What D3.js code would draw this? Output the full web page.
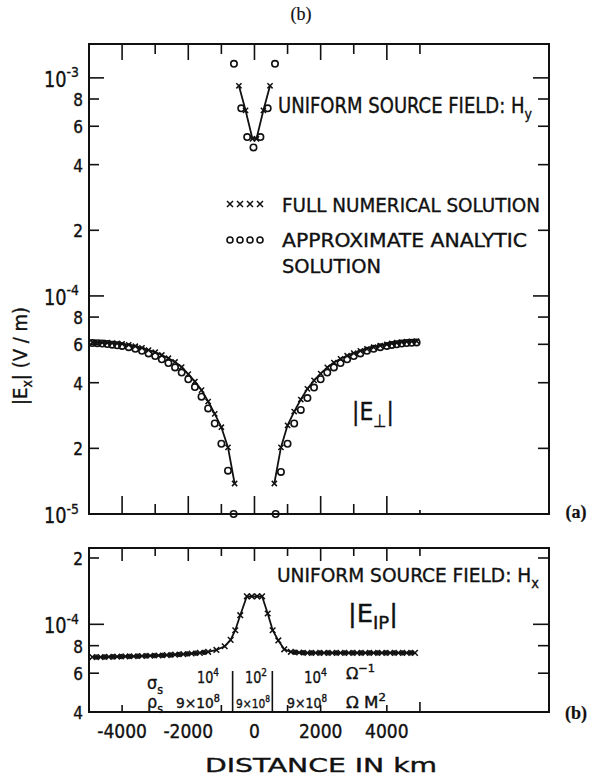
<!DOCTYPE html>
<html>
<head>
<meta charset="utf-8">
<style>
    body { margin: 0; background: #fff; }
    svg { font-family: "DejaVu Sans Condensed", "Liberation Sans Narrow", "DejaVu Sans", sans-serif; }
    svg text { fill: #111; stroke: #111; stroke-width: 0.35; }
    .frame { fill: none; stroke: #111; stroke-width: 2; }
    .tick { stroke: #111; stroke-width: 1.6; }
    .curve { fill: none; stroke: #111; stroke-width: 1.8; }
    .xmark { fill: none; stroke: #111; stroke-width: 1.5; }
    .omark { fill: none; stroke: #111; stroke-width: 1.6; }
    .dot { fill: #111; stroke: #111; stroke-width: 1; }
    svg text.serif { font-family: "Liberation Serif", "DejaVu Serif", serif; stroke-width: 0.2; }
</style>
<script src="https://d3js.org/d3.v7.min.js"></script>
</head>
<body>
<script>
// ---- panel (a), |E_perp|, H_y source ----
// V shape near the origin (top of panel)
const hyNumKm  = [-470, -270, -60, 60, 270, 470];
const hyNumVal = [9.2e-4, 7.1e-4, 5.25e-4, 5.25e-4, 7.1e-4, 9.2e-4];
const hyAppKm  = [-620, -400, -220, -30, 180, 400, 620];
const hyAppVal = [1.16e-3, 7.25e-4, 5.35e-4, 4.8e-4, 5.35e-4, 7.25e-4, 1.16e-3];

// full numerical solution, left and right branches
const numLeftKm  = [-4900, -4750, -4600, -4450, -4300, -4150, -4000, -3800, -3600, -3400, -3200, -3000,
                    -2800, -2600, -2400, -2200, -2000, -1800, -1600, -1400, -1200, -1000, -800, -600];
const numLeftVal = [6.12e-5, 6.12e-5, 6.11e-5, 6.10e-5, 6.08e-5, 6.06e-5, 6.03e-5, 5.97e-5, 5.88e-5, 5.78e-5, 5.65e-5, 5.52e-5,
                    5.36e-5, 5.18e-5, 4.98e-5, 4.72e-5, 4.38e-5, 4.05e-5, 3.70e-5, 3.28e-5, 2.88e-5, 2.50e-5, 2.02e-5, 1.38e-5];
const numRightKm  = [600, 800, 1000, 1200, 1400, 1600, 1800, 2000, 2200, 2400, 2600, 2800,
                     3000, 3200, 3400, 3600, 3800, 4000, 4150, 4300, 4450, 4600, 4750, 4900];
const numRightVal = [1.38e-5, 2.02e-5, 2.55e-5, 2.95e-5, 3.35e-5, 3.75e-5, 4.10e-5, 4.40e-5, 4.70e-5, 4.95e-5, 5.15e-5, 5.32e-5,
                     5.47e-5, 5.60e-5, 5.72e-5, 5.82e-5, 5.92e-5, 6.00e-5, 6.06e-5, 6.10e-5, 6.14e-5, 6.17e-5, 6.19e-5, 6.20e-5];

// approximate analytic solution
const appLeftKm  = [-4900, -4750, -4600, -4450, -4300, -4150, -4000, -3800, -3600, -3400, -3200, -3000,
                    -2800, -2600, -2400, -2200, -2000, -1800, -1600, -1400, -1200, -1000, -800, -630];
const appLeftVal = [6.08e-5, 6.07e-5, 6.05e-5, 6.02e-5, 5.98e-5, 5.94e-5, 5.90e-5, 5.82e-5, 5.72e-5, 5.60e-5, 5.45e-5, 5.30e-5,
                    5.12e-5, 4.92e-5, 4.70e-5, 4.45e-5, 4.15e-5, 3.82e-5, 3.45e-5, 3.05e-5, 2.60e-5, 2.10e-5, 1.58e-5, 1.0e-5];
const appRightKm  = [640, 800, 1000, 1200, 1400, 1600, 1800, 2000, 2200, 2400, 2600, 2800,
                     3000, 3200, 3400, 3600, 3800, 4000, 4150, 4300, 4450, 4600, 4750, 4900];
const appRightVal = [1.0e-5, 1.56e-5, 2.10e-5, 2.60e-5, 3.00e-5, 3.40e-5, 3.80e-5, 4.15e-5, 4.45e-5, 4.70e-5, 4.92e-5, 5.12e-5,
                     5.30e-5, 5.45e-5, 5.60e-5, 5.72e-5, 5.82e-5, 5.90e-5, 5.96e-5, 6.00e-5, 6.05e-5, 6.08e-5, 6.10e-5, 6.12e-5];

// ---- panel (b), |E_P|, H_x source ----
const tpNumKm  = [-4900, -4650, -4400, -4150, -3900, -3650, -3400, -3150, -2900, -2650, -2400, -2150, -1900, -1650,
                  -1400, -1150, -900, -720, -580, -430, -230, -80, 80, 230, 400, 550, 720, 900, 1100,
                  1350, 1600, 1850, 2100, 2350, 2600, 2850, 3100, 3350, 3600, 3850, 4100, 4350, 4600, 4850];
const tpNumVal = [7.10e-5, 7.10e-5, 7.12e-5, 7.13e-5, 7.15e-5, 7.16e-5, 7.18e-5, 7.20e-5, 7.22e-5, 7.25e-5, 7.28e-5, 7.32e-5, 7.37e-5, 7.42e-5,
                  7.50e-5, 7.65e-5, 7.95e-5, 8.50e-5, 9.40e-5, 1.10e-4, 1.34e-4, 1.34e-4, 1.34e-4, 1.34e-4, 1.12e-4, 9.40e-5, 8.45e-5, 7.70e-5, 7.50e-5,
                  7.45e-5, 7.42e-5, 7.42e-5, 7.42e-5, 7.42e-5, 7.42e-5, 7.42e-5, 7.42e-5, 7.42e-5, 7.42e-5, 7.42e-5, 7.42e-5, 7.42e-5, 7.42e-5, 7.42e-5];
const tpAppKm  = [-4775, -4525, -4275, -4025, -3775, -3525, -3275, -3025, -2775, -2525, -2275, -2025, -1775, -1525,
                  1225, 1475, 1725, 1975, 2225, 2475, 2725, 2975, 3225, 3475, 3725, 3975, 4225, 4475, 4725];
const tpAppVal = [7.10e-5, 7.11e-5, 7.12e-5, 7.14e-5, 7.15e-5, 7.17e-5, 7.19e-5, 7.21e-5, 7.23e-5, 7.26e-5, 7.30e-5, 7.34e-5, 7.40e-5, 7.46e-5,
                  7.47e-5, 7.43e-5, 7.42e-5, 7.42e-5, 7.42e-5, 7.42e-5, 7.42e-5, 7.42e-5, 7.42e-5, 7.42e-5, 7.42e-5, 7.42e-5, 7.42e-5, 7.42e-5, 7.42e-5];

// axes
const xTickVals  = [-4000, -3000, -2000, -1000, 0, 1000, 2000, 3000, 4000, 5000];
const xLabelVals = [-4000, -2000, 0, 2000, 4000];
const yTicksA = [1e-3, 8e-4, 6e-4, 4e-4, 2e-4, 1e-4, 8e-5, 6e-5, 4e-5, 2e-5, 1e-5];
const yTicksB = [2e-4, 1e-4, 8e-5, 6e-5, 4e-5];
// conductivity blocks (boundaries in km)
const blockEdges = [-660, 540];

const W = 601, H = 778;
const svg = d3.select('body').append('svg').attr('width', W).attr('height', H);

const x  = d3.scaleLinear().domain([-5000, 8900]).range([89, 549]);
const yA = d3.scaleLog().domain([1e-5, 1.43e-3]).range([514, 44]);
const yB = d3.scaleLog().domain([4e-5, 2.22e-4]).range([712, 548]);

const isDecade = v => Math.abs(Math.log10(v) - Math.round(Math.log10(v))) < 1e-9;
const lead = v => Math.round(v / Math.pow(10, Math.floor(Math.log10(v) + 1e-9)));

function txt(px, py, s, size, len, anchor) {
    const t = svg.append('text').attr('x', px).attr('y', py).attr('font-size', size).text(s);
    if (len) t.attr('textLength', len).attr('lengthAdjust', 'spacingAndGlyphs');
    if (anchor) t.attr('text-anchor', anchor);
    return t;
}

// one text element with sub/superscripts: parts = [[string, 'n'|'sub'|'sup'], ...]
function rich(px, py, parts, size, len, anchor) {
    const t = svg.append('text').attr('x', px).attr('y', py).attr('font-size', size);
    if (len) t.attr('textLength', len).attr('lengthAdjust', 'spacingAndGlyphs');
    if (anchor) t.attr('text-anchor', anchor);
    let shift = 0;
    parts.forEach(([s, k]) => {
        const want = k === 'sup' ? -0.45 * size : k === 'sub' ? 0.28 * size : 0;
        t.append('tspan')
            .attr('dy', want - shift)
            .attr('font-size', k === 'n' ? size : 0.7 * size)
            .text(s);
        shift = want;
    });
    return t;
}

function crosses(g, xs, ys, yS, s) {
    g.selectAll(null).data(d3.zip(xs, ys)).enter().append('path')
        .attr('class', 'xmark')
        .attr('d', d => {
            const cx = x(d[0]), cy = yS(d[1]);
            return `M${cx - s},${cy - s}L${cx + s},${cy + s}M${cx - s},${cy + s}L${cx + s},${cy - s}`;
        });
}
function circles(g, xs, ys, yS, r, cls) {
    g.selectAll(null).data(d3.zip(xs, ys)).enter().append('circle')
        .attr('class', cls || 'omark')
        .attr('cx', d => x(d[0])).attr('cy', d => yS(d[1])).attr('r', r);
}
function curve(g, xs, ys, yS) {
    g.append('path').datum(d3.zip(xs, ys)).attr('class', 'curve')
        .attr('d', d3.line().x(d => x(d[0])).y(d => yS(d[1])));
}

// frame + ticks + y labels for one panel
function panel(yS, yTicks, topLen, botLen, bigLen, smallLen) {
    const [y0, y1] = yS.range();   // bottom, top
    const L = x.range()[0], R = x.range()[1];
    const g = svg.append('g');
    g.append('rect').attr('class', 'frame')
        .attr('x', L).attr('y', y1).attr('width', R - L).attr('height', y0 - y1);
    g.selectAll(null).data(xTickVals).enter().append('line').attr('class', 'tick')
        .attr('x1', d => x(d)).attr('x2', d => x(d))
        .attr('y1', y1).attr('y2', d => y1 + topLen(d));
    g.selectAll(null).data(xTickVals.filter(d => botLen(d) > 0)).enter().append('line').attr('class', 'tick')
        .attr('x1', d => x(d)).attr('x2', d => x(d))
        .attr('y1', y0).attr('y2', d => y0 - botLen(d));
    g.selectAll(null).data(yTicks).enter().append('line').attr('class', 'tick')
        .attr('x1', L).attr('x2', d => L + (isDecade(d) ? bigLen : smallLen))
        .attr('y1', d => yS(d)).attr('y2', d => yS(d));
    g.selectAll(null).data(yTicks).enter().append('line').attr('class', 'tick')
        .attr('x1', R).attr('x2', d => R - (isDecade(d) ? bigLen + 1 : smallLen + 1))
        .attr('y1', d => yS(d)).attr('y2', d => yS(d));
    yTicks.forEach(v => {
        const py = yS(v);
        if (isDecade(v)) {
            rich(44, py + 9, [['10', 'n'], [String(Math.round(Math.log10(v))), 'sup']], 21, 35);
        } else {
            txt(83, py + 7, String(lead(v)), 17, null, 'end');
        }
    });
    return g;
}

// ---------- panel (a)
const gA = panel(yA, yTicksA,
    d => (d % 2000 === 0 ? 16 : 10),
    d => (d === 5000 ? 4 : d % 2000 === 0 ? 18 : 10),
    15, 10);

curve(gA, hyNumKm, hyNumVal, yA);
crosses(gA, hyNumKm, hyNumVal, yA, 2.6);
circles(gA, hyAppKm, hyAppVal, yA, 3.2);

curve(gA, numLeftKm, numLeftVal, yA);
curve(gA, numRightKm, numRightVal, yA);
crosses(gA, numLeftKm, numLeftVal, yA, 2.6);
crosses(gA, numRightKm, numRightVal, yA, 2.6);
circles(gA, appLeftKm, appLeftVal, yA, 3.2);
circles(gA, appRightKm, appRightVal, yA, 3.2);

// text in panel (a)
rich(278, 113, [['UNIFORM SOURCE FIELD: H', 'n'], ['y', 'sub']], 21, 254);

// legend
const legX = [230, 240, 250, 260];
svg.selectAll(null).data(legX).enter().append('path').attr('class', 'xmark')
    .attr('d', d => `M${d - 3},${201}L${d + 3},${207}M${d - 3},${207}L${d + 3},${201}`);
svg.selectAll(null).data(legX).enter().append('circle').attr('class', 'omark')
    .attr('cx', d => d).attr('cy', 240).attr('r', 3);
txt(282, 212, 'FULL NUMERICAL SOLUTION', 20, 258);
txt(282, 247, 'APPROXIMATE ANALYTIC', 20, 245);
txt(282, 273, 'SOLUTION', 20, 99);

// |E_perp|
rich(352, 420, [['|E', 'n'], ['\u22A5', 'sub'], ['|', 'n']], 25, 42);

// ---------- panel (b)
const gB = panel(yB, yTicksB,
    d => (d % 2000 === 0 ? 13 : 8),
    d => ([-4000, -1000, 1000, 2000, 4000].includes(d) ? 7 : d === 5000 ? 10 : 0),
    15, 10);

curve(gB, tpNumKm, tpNumVal, yB);
circles(gB, tpAppKm, tpAppVal, yB, 2.2, 'dot');
crosses(gB, tpNumKm, tpNumVal, yB, 2.8);

gB.selectAll(null).data(blockEdges).enter().append('line').attr('class', 'tick')
    .attr('x1', d => x(d)).attr('x2', d => x(d))
    .attr('y1', 671).attr('y2', yB.range()[0]);

rich(277, 582, [['UNIFORM SOURCE FIELD: H', 'n'], ['x', 'sub']], 20, 262);
rich(348, 622, [['|E', 'n'], ['IP', 'sub'], ['|', 'n']], 24, 50);

// conductivity / resistivity annotations
rich(147, 689, [['\u03C3', 'n'], ['s', 'sub']], 17, 16);
rich(147, 708, [['\u03C1', 'n'], ['s', 'sub']], 17, 16);
rich(197, 683, [['10', 'n'], ['4', 'sup']], 16, 22);
rich(245, 683, [['10', 'n'], ['2', 'sup']], 16, 22);
rich(304, 683, [['10', 'n'], ['4', 'sup']], 16, 23);
rich(176, 708, [['9\u00D710', 'n'], ['8', 'sup']], 14, 44);
rich(236, 708, [['9\u00D710', 'n'], ['8', 'sup']], 13, 34);
rich(287, 708, [['9\u00D710', 'n'], ['8', 'sup']], 14, 40);
rich(346, 679, [['\u03A9', 'n'], ['\u22121', 'sup']], 16, 29);
rich(346, 708, [['\u03A9  M', 'n'], ['2', 'sup']], 15, 40);

// x tick labels and axis title
svg.selectAll(null).data(xLabelVals).enter().append('text')
    .attr('x', d => x(d)).attr('y', 738).attr('text-anchor', 'middle')
    .attr('font-size', 19)
    .text(d => String(d));
txt(321, 772, 'DISTANCE  IN  km', 20, 232, 'middle');

// y axis title
const yt = svg.append('text').attr('transform', 'translate(27,356) rotate(-90)')
    .attr('text-anchor', 'middle').attr('font-size', 20);
yt.append('tspan').text('|E');
yt.append('tspan').attr('dy', 5).attr('font-size', 14).text('x');
yt.append('tspan').attr('dy', -5).text('|  (V / m)');

// panel letters
txt(301, 20, '(b)', 18, null, 'middle').attr('class', 'serif');
txt(576, 518, '(a)', 18, null, 'middle').attr('class', 'serif').attr('font-weight', 'bold');
txt(576, 719, '(b)', 18, null, 'middle').attr('class', 'serif').attr('font-weight', 'bold');
</script>
</body>
</html>
